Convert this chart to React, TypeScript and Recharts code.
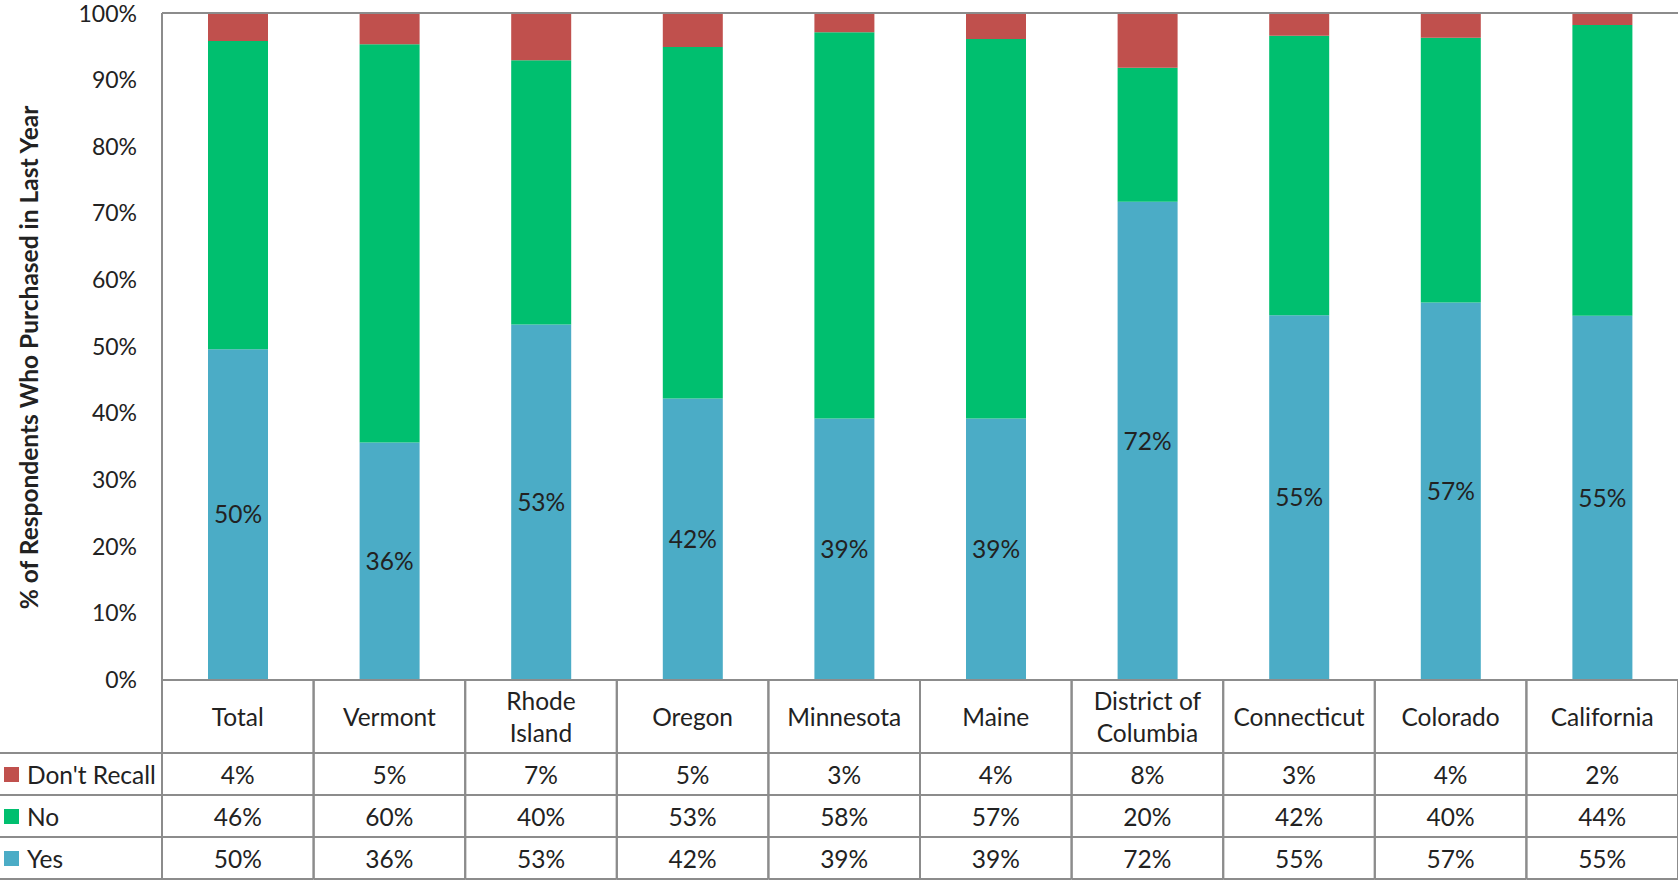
import { Bar, BarChart, LabelList, ReferenceLine, XAxis, YAxis } from 'recharts';

const categories = [
  'Total',
  'Vermont',
  'Rhode Island',
  'Oregon',
  'Minnesota',
  'Maine',
  'District of Columbia',
  'Connecticut',
  'Colorado',
  'California',
];
// header lines as printed in the table (two-line names wrap)
const headerLines = [
  ['Total'],
  ['Vermont'],
  ['Rhode', 'Island'],
  ['Oregon'],
  ['Minnesota'],
  ['Maine'],
  ['District of', 'Columbia'],
  ['Connecticut'],
  ['Colorado'],
  ['California'],
];
const yesValues = [49.6, 35.6, 53.3, 42.2, 39.2, 39.2, 71.7, 54.7, 56.6, 54.6];
const noValues = [46.2, 59.7, 39.6, 52.7, 57.9, 56.9, 20.1, 41.9, 39.7, 43.6];
const dontRecallValues = [4.2, 4.7, 7.1, 5.1, 2.9, 3.9, 8.2, 3.4, 3.7, 1.8];
const yTicks = [0, 10, 20, 30, 40, 50, 60, 70, 80, 90, 100];

const series = [
  { key: 'dontRecall', name: "Don't Recall", color: '#C0504D', values: dontRecallValues },
  { key: 'no', name: 'No', color: '#00BF6F', values: noValues },
  { key: 'yes', name: 'Yes', color: '#4BACC6', values: yesValues },
];

const data = categories.map((name, i) => ({
  name,
  yes: yesValues[i],
  no: noValues[i],
  dontRecall: dontRecallValues[i],
}));

const WIDTH = 1678;
const HEIGHT = 880;
const Y_AXIS_W = 162;
const TOP = 13;
const X_AXIS_H = 200;
const COL_W = (WIDTH - Y_AXIS_W) / categories.length;
const GRID = '#8c8c8c';
const TEXT = '#222';
const FONT = 'Lato, "Noto Sans", sans-serif';
const TABLE_FS = 24.5;
// table row boundaries, relative to the baseline
const HEADER_H = 73;
const ROW_H = 42;

const pct = (v: number) => `${Math.round(v)}%`;

function TableTick(props: any) {
  const { x, y, payload } = props;
  const i = categories.indexOf(payload.value);
  const left = x - COL_W / 2;
  const right = x + COL_W / 2;
  const rowTops = series.map((_, r) => y + HEADER_H + r * ROW_H);
  const bottom = y + HEADER_H + series.length * ROW_H;
  const lines = headerLines[i];
  const headerMid = y + HEADER_H / 2;

  return (
    <g fontFamily={FONT} fontSize={TABLE_FS} fill={TEXT}>
      {i === 0 && (
        <g>
          {[...rowTops, bottom].map((ry, k) => (
            <line key={k} x1={0} x2={left} y1={ry} y2={ry} stroke={GRID} strokeWidth={2} />
          ))}
          {series.map((s, r) => (
            <g key={s.key}>
              <rect x={4} y={rowTops[r] + ROW_H / 2 - 7} width={15} height={15} fill={s.color} />
              <text x={27} y={rowTops[r] + ROW_H / 2} dominantBaseline="central" fill={TEXT}>
                {s.name}
              </text>
            </g>
          ))}
        </g>
      )}
      <line x1={left} x2={left} y1={y} y2={bottom} stroke={GRID} strokeWidth={2} />
      <line x1={right} x2={right} y1={y} y2={bottom} stroke={GRID} strokeWidth={2} />
      {[...rowTops, bottom].map((ry, k) => (
        <line key={k} x1={left} x2={right} y1={ry} y2={ry} stroke={GRID} strokeWidth={2} />
      ))}
      {lines.map((t, k) => (
        <text
          key={k}
          x={x}
          y={headerMid + (k - (lines.length - 1) / 2) * 32}
          textAnchor="middle"
          dominantBaseline="central"
          fill={TEXT}
        >
          {t}
        </text>
      ))}
      {series.map((s, r) => (
        <text
          key={s.key}
          x={x}
          y={rowTops[r] + ROW_H / 2}
          textAnchor="middle"
          dominantBaseline="central"
          fill={TEXT}
        >
          {pct(s.values[i])}
        </text>
      ))}
    </g>
  );
}

function YTitle(props: any) {
  const vb = props.viewBox;
  const cx = 28;
  const cy = vb.y + vb.height / 2 + 11;
  return (
    <text
      x={cx}
      y={cy}
      transform={`rotate(-90 ${cx} ${cy})`}
      textAnchor="middle"
      dominantBaseline="central"
      fontFamily={FONT}
      fontWeight="bold"
      fontSize={24.5}
      fill={TEXT}
    >
      % of Respondents Who Purchased in Last Year
    </text>
  );
}

export default function App() {
  return (
    <div style={{ position: 'absolute', left: 0, top: 0, width: WIDTH, height: HEIGHT, background: '#fff' }}>
      <BarChart
        width={WIDTH}
        height={HEIGHT}
        data={data}
        margin={{ top: TOP, right: 0, left: 0, bottom: 0 }}
        barSize={60}
      >
        <XAxis
          dataKey="name"
          height={X_AXIS_H}
          interval={0}
          tickLine={false}
          tickSize={0}
          tickMargin={0}
          axisLine={{ stroke: GRID, strokeWidth: 2 }}
          tick={<TableTick />}
        />
        <YAxis
          width={Y_AXIS_W}
          domain={[0, 100]}
          ticks={yTicks}
          allowDataOverflow
          tickFormatter={(v) => `${v}%`}
          tickLine={false}
          tickSize={0}
          tickMargin={25}
          axisLine={{ stroke: GRID, strokeWidth: 2 }}
          tick={{ fontFamily: FONT, fontSize: 23, fill: TEXT }}
          label={<YTitle />}
        />
        <ReferenceLine y={100} stroke={GRID} strokeWidth={2} />
        <Bar dataKey="yes" name="Yes" stackId="a" fill="#4BACC6" isAnimationActive={false}>
          <LabelList
            dataKey="yes"
            position="center"
            formatter={(v: any) => pct(Number(v))}
            style={{ fontFamily: FONT, fontSize: TABLE_FS, fill: TEXT }}
          />
        </Bar>
        <Bar dataKey="no" name="No" stackId="a" fill="#00BF6F" isAnimationActive={false} />
        <Bar dataKey="dontRecall" name="Don't Recall" stackId="a" fill="#C0504D" isAnimationActive={false} />
      </BarChart>
    </div>
  );
}
